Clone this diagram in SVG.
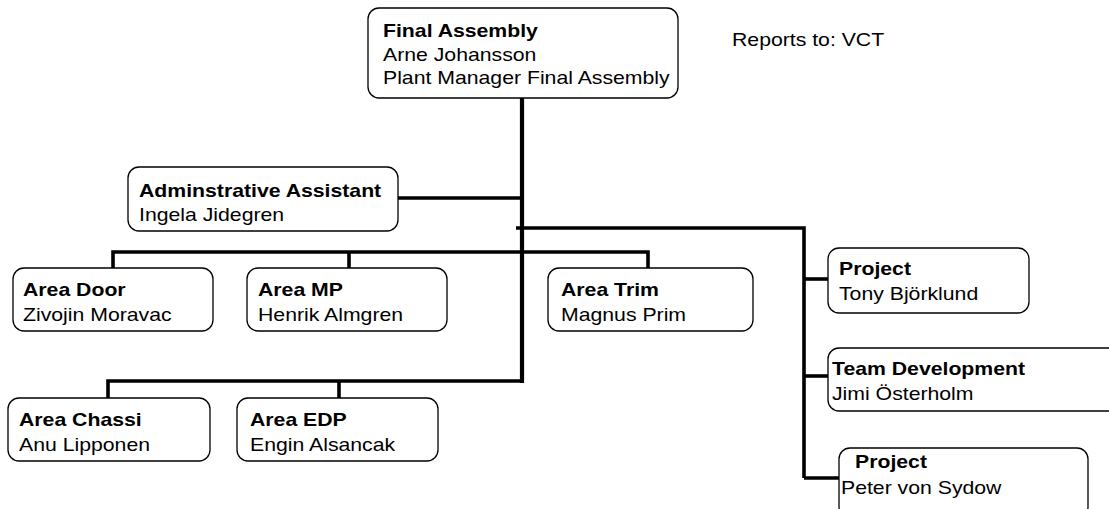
<svg xmlns="http://www.w3.org/2000/svg" width="1109" height="509" viewBox="0 0 1109 509">
<style>
.box{fill:#fff;stroke:#000;stroke-width:1.3}
.t{font-family:"Liberation Sans",Arial,sans-serif;font-size:18px;fill:#000}
.b{font-weight:bold}
.c{stroke:#000;stroke-width:3.6;fill:none;stroke-linecap:butt;stroke-linejoin:miter}
</style>
<rect width="1109" height="509" fill="#fff"/>
<g id="connectors">
<path class="c" d="M522,98 V383" style="stroke-width:4.2"/>
<path class="c" d="M398,198 H522"/>
<path class="c" d="M516,228 H804 V478"/>
<path class="c" d="M804,279 H828"/>
<path class="c" d="M804,376 H828"/>
<path class="c" d="M804,478 H839"/>
<path class="c" d="M113,268 V252 H648 V268"/>
<path class="c" d="M349,252 V268"/>
<path class="c" d="M108,398 V381 H524"/>
<path class="c" d="M339,381 V398"/>
</g>
<g id="final-assembly">
<rect class="box" x="368" y="8" width="310" height="90" rx="11"/>
<text class="t b" transform="translate(383,37) scale(1.18,1)">Final Assembly</text>
<text class="t" transform="translate(383,60.5) scale(1.18,1)">Arne Johansson</text>
<text class="t" transform="translate(383,84) scale(1.18,1)">Plant Manager Final Assembly</text>
</g>
<g id="reports-to">
<text class="t" transform="translate(732,46) scale(1.18,1)">Reports to: VCT</text>
</g>
<g id="admin">
<rect class="box" x="128" y="167" width="270" height="64" rx="11"/>
<text class="t b" transform="translate(139,197) scale(1.18,1)">Adminstrative Assistant</text>
<text class="t" transform="translate(139,221) scale(1.18,1)">Ingela Jidegren</text>
</g>
<g id="area-door">
<rect class="box" x="13" y="268" width="200" height="63" rx="11"/>
<text class="t b" transform="translate(23,296) scale(1.18,1)">Area Door</text>
<text class="t" transform="translate(23,321) scale(1.18,1)">Zivojin Moravac</text>
</g>
<g id="area-mp">
<rect class="box" x="247" y="268" width="200" height="63" rx="11"/>
<text class="t b" transform="translate(258,296) scale(1.18,1)">Area MP</text>
<text class="t" transform="translate(258,321) scale(1.18,1)">Henrik Almgren</text>
</g>
<g id="area-trim">
<rect class="box" x="548" y="268" width="205" height="63" rx="11"/>
<text class="t b" transform="translate(561,296) scale(1.18,1)">Area Trim</text>
<text class="t" transform="translate(561,321) scale(1.18,1)">Magnus Prim</text>
</g>
<g id="area-chassi">
<rect class="box" x="8" y="398" width="202" height="63" rx="11"/>
<text class="t b" transform="translate(19,426) scale(1.18,1)">Area Chassi</text>
<text class="t" transform="translate(19,451) scale(1.18,1)">Anu Lipponen</text>
</g>
<g id="area-edp">
<rect class="box" x="237" y="398" width="201" height="63" rx="11"/>
<text class="t b" transform="translate(250,426) scale(1.18,1)">Area EDP</text>
<text class="t" transform="translate(250,451) scale(1.18,1)">Engin Alsancak</text>
</g>
<g id="project-tony">
<rect class="box" x="828" y="248" width="201" height="65" rx="11"/>
<text class="t b" transform="translate(839,275) scale(1.18,1)">Project</text>
<text class="t" transform="translate(839,300) scale(1.18,1)">Tony Björklund</text>
</g>
<g id="team-development">
<rect class="box" x="828" y="348" width="300" height="63" rx="11"/>
<text class="t b" transform="translate(832,375) scale(1.18,1)">Team Development</text>
<text class="t" transform="translate(832,400) scale(1.18,1)">Jimi Österholm</text>
</g>
<g id="project-peter">
<rect class="box" x="839" y="448" width="249" height="70" rx="11"/>
<text class="t b" transform="translate(855,468) scale(1.18,1)">Project</text>
<text class="t" transform="translate(841,494) scale(1.18,1)">Peter von Sydow</text>
</g>
</svg>
